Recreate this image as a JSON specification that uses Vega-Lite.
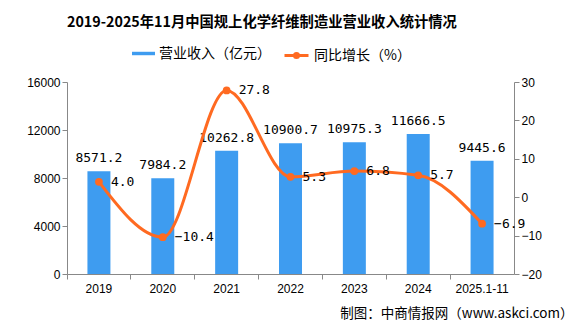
{
  "$schema": "https://vega.github.io/schema/vega-lite/v6.json",
  "width": 447,
  "height": 192,
  "autosize": "none",
  "padding": {"left": 67, "top": 82, "right": 62, "bottom": 53},
  "background": "white",
  "title": {
    "text": "2019-2025年11月中国规上化学纤维制造业营业收入统计情况",
    "anchor": "start",
    "frame": "group",
    "font": "Noto Sans CJK SC",
    "fontSize": 14.3,
    "fontWeight": "bold",
    "color": "#000000",
    "offset": 12
  },
  "config": {
    "view": {"stroke": null},
    "axis": {
      "labelFont": "Liberation Sans",
      "labelFontSize": 12,
      "labelColor": "#000000",
      "domainColor": "#888888",
      "tickColor": "#888888",
      "tickSize": 5,
      "grid": false,
      "title": null,
      "labelOverlap": false
    },
    "legend": {
      "labelFont": "Noto Sans CJK SC",
      "labelFontSize": 14,
      "labelColor": "#000000",
      "padding": 0,
      "labelOffset": 4
    }
  },
  "data": {
    "values": [
      {"year": "2019", "revenue": 8571.2, "growth": 4.0},
      {"year": "2020", "revenue": 7984.2, "growth": -10.4},
      {"year": "2021", "revenue": 10262.8, "growth": 27.8},
      {"year": "2022", "revenue": 10900.7, "growth": 5.3},
      {"year": "2023", "revenue": 10975.3, "growth": 6.8},
      {"year": "2024", "revenue": 11666.5, "growth": 5.7},
      {"year": "2025.1-11", "revenue": 9445.6, "growth": -6.9}
    ]
  },
  "encoding": {
    "x": {
      "field": "year",
      "type": "nominal",
      "sort": null,
      "scale": {"paddingInner": 0, "paddingOuter": 0},
      "axis": {
        "labelAngle": 0,
        "bandPosition": 0,
        "labelPadding": 4,
        "title": "制图：中商情报网（www.askci.com）",
        "titleFont": "Noto Sans CJK SC",
        "titleFontSize": 13.5,
        "titleFontWeight": "normal",
        "titleColor": "#000000",
        "titleAlign": "right",
        "titleAnchor": null,
        "titleBaseline": "middle",
        "titleX": 506,
        "titleY": 39
      }
    }
  },
  "layer": [
    {
      "encoding": {
        "y": {
          "field": "revenue",
          "type": "quantitative",
          "scale": {"domain": [0, 16000], "nice": false},
          "axis": {"values": [0, 4000, 8000, 12000, 16000], "orient": "left", "format": "d"}
        }
      },
      "layer": [
        {
          "mark": {"type": "bar", "width": {"band": 0.36}},
          "encoding": {
            "color": {
              "datum": "营业收入（亿元）",
              "type": "nominal",
              "scale": {"range": ["#3e9cf0"]},
              "legend": {
                "orient": "none",
                "legendX": 65,
                "legendY": -40,
                "title": null,
                "symbolType": "M-1,-0.15H1V0.15H-1Z",
                "symbolSize": 529,
                "symbolStrokeWidth": 0
              }
            }
          }
        },
        {
          "mark": {"type": "text", "font": "DejaVu Sans Mono", "fontSize": 13, "baseline": "alphabetic", "dy": -9, "color": "#000000"},
          "encoding": {
            "text": {"field": "revenue", "type": "quantitative", "format": ".1f"}
          }
        }
      ]
    },
    {
      "encoding": {
        "y": {
          "field": "growth",
          "type": "quantitative",
          "scale": {"domain": [-20, 30], "nice": false},
          "axis": {"values": [-20, -10, 0, 10, 20, 30], "orient": "right", "format": "d"}
        }
      },
      "layer": [
        {
          "mark": {"type": "line", "interpolate": "monotone", "strokeWidth": 3},
          "encoding": {
            "stroke": {
              "datum": "同比增长（%）",
              "type": "nominal",
              "scale": {"range": ["#ff6a21"]},
              "legend": {
                "orient": "none",
                "legendX": 216,
                "legendY": -40,
                "title": null,
                "symbolType": "M-1,0H1M0.17,0A0.17,0.17,0,1,1,-0.17,0A0.17,0.17,0,1,1,0.17,0Z",
                "symbolSize": 576,
                "symbolStrokeWidth": 3,
                "symbolFillColor": "#ff6a21"
              }
            }
          }
        },
        {
          "mark": {"type": "point", "filled": true, "size": 60, "color": "#ff6a21", "opacity": 1}
        },
        {
          "mark": {"type": "text", "font": "DejaVu Sans Mono", "fontSize": 13, "align": "left", "baseline": "middle", "dx": 12, "color": "#000000"},
          "encoding": {
            "text": {"field": "growth", "type": "quantitative", "format": ".1f"}
          }
        }
      ]
    }
  ],
  "resolve": {"scale": {"y": "independent"}}
}
